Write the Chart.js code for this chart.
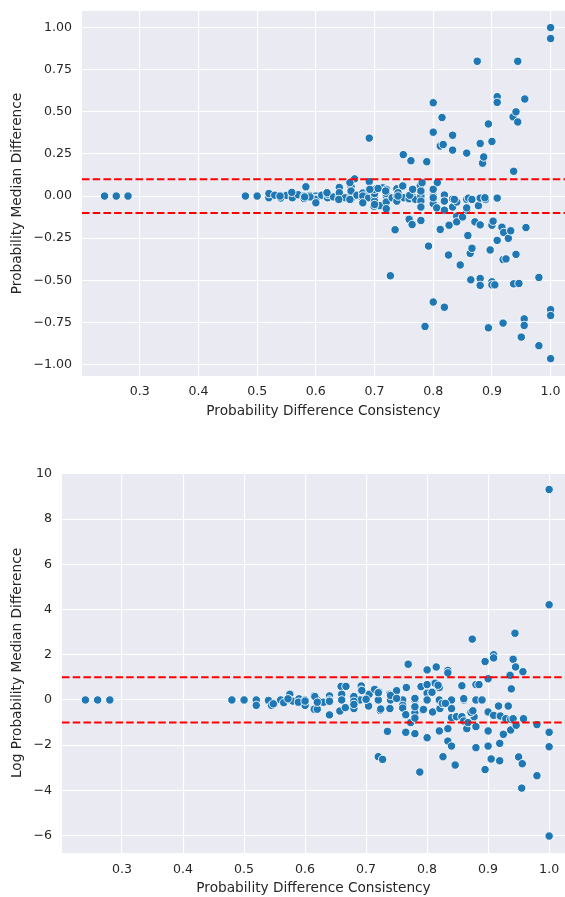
<!DOCTYPE html>
<html>
<head>
<meta charset="utf-8">
<script src="https://cdn.jsdelivr.net/npm/chart.js@4.4.1/dist/chart.umd.min.js"></script>
<style>
    html, body { margin: 0; padding: 0; background: #ffffff; overflow: hidden; }
    .panel { position: absolute; left: 0; }
</style>
</head>
<body>
<div class="panel" style="top:0"><canvas id="topChart" width="565" height="430"></canvas></div>
<div class="panel" style="top:430px"><canvas id="bottomChart" width="565" height="467"></canvas></div>
<script>
// x = probability difference consistency, y = median difference (top) / log median difference (bottom)
const topX = [
    0.24, 0.26, 0.28, 0.48, 0.50, 0.52, 0.52, 0.52, 0.53, 0.54, 0.54, 0.55, 0.56, 0.56, 0.57, 0.58, 0.58, 0.583, 0.59, 0.60,
    0.60, 0.60, 0.61, 0.62, 0.62, 0.62, 0.63, 0.64, 0.64, 0.64, 0.64, 0.65, 0.66, 0.66, 0.66, 0.66, 0.666, 0.67, 0.68, 0.68,
    0.68, 0.69, 0.691, 0.691, 0.691, 0.70, 0.70, 0.70, 0.705, 0.709, 0.714, 0.72, 0.72, 0.72, 0.72, 0.72, 0.727, 0.73, 0.735, 0.738,
    0.738, 0.738, 0.74, 0.749, 0.749, 0.75, 0.759, 0.759, 0.762, 0.764, 0.764, 0.766, 0.77, 0.778, 0.779, 0.779, 0.779, 0.779, 0.781, 0.786,
    0.789, 0.792, 0.80, 0.80, 0.80, 0.80, 0.80, 0.80, 0.806, 0.807, 0.812, 0.812, 0.815, 0.817, 0.819, 0.819, 0.819, 0.819, 0.826, 0.827,
    0.833, 0.833, 0.833, 0.833, 0.84, 0.84, 0.84, 0.846, 0.85, 0.857, 0.857, 0.857, 0.859, 0.86, 0.863, 0.864, 0.866, 0.866, 0.871, 0.875,
    0.877, 0.88, 0.88, 0.88, 0.88, 0.88, 0.884, 0.886, 0.889, 0.894, 0.894, 0.897, 0.90, 0.90, 0.90, 0.90, 0.902, 0.905, 0.909, 0.909,
    0.909, 0.909, 0.917, 0.919, 0.919, 0.92, 0.924, 0.928, 0.932, 0.936, 0.937, 0.937, 0.941, 0.941, 0.944, 0.944, 0.946, 0.95, 0.955, 0.955,
    0.956, 0.958, 0.98, 0.98, 1.0, 1.0, 1.0, 1.0, 1.0, 0.74, 0.76, 0.72, 0.70,
    0.699, 0.706, 0.719, 0.748, 0.765, 0.779, 0.80, 0.80, 0.836, 0.888, 0.539, 0.559, 0.59, 0.60, 0.619, 0.658, 0.68, 0.692, 0.70, 0.658,
    0.581, 0.639, 0.857
];
const topY = [
    0, 0, 0, 0, 0, 0.008, -0.01, 0.015, 0.005, 0, -0.012, 0.004, 0, -0.01, 0.008, 0, -0.015, 0.055, 0.004, 0,
    -0.014, -0.02, 0.005, 0, -0.01, 0.01, -0.005, 0.051, 0, -0.02, 0.02, -0.01, 0.057, 0, -0.02, 0.03, 0.102, 0.005, 0.018, -0.02,
    0, -0.01, 0.086, 0.035, 0.344, 0, -0.031, 0.015, 0.047, -0.057, 0.049, 0.028, 0, -0.035, -0.075, 0.015, -0.473, -0.01, -0.20, 0.043,
    0, -0.03, 0.02, 0.246, 0.061, -0.01, -0.016, -0.138, 0.21, 0, -0.169, 0.041, -0.02, 0.063, 0, -0.03, -0.065, -0.145, 0.079, -0.774,
    0.204, -0.297, 0.554, 0.379, 0.033, 0, -0.045, -0.629, -0.07, 0.08, 0.297, -0.198, 0.466, 0.306, 0.006, -0.03, -0.084, -0.66, -0.35, -0.173,
    0.361, 0.273, -0.018, -0.065, -0.035, -0.12, -0.153, -0.409, -0.124, 0.255, -0.02, -0.084, -0.234, -0.012, -0.34, -0.497, -0.02, -0.31, -0.153, 0.80,
    -0.057, 0.312, -0.012, -0.171, -0.489, -0.53, 0.195, 0.232, -0.02, 0.428, -0.782, -0.32, 0.324, -0.173, -0.509, -0.527, -0.149, -0.527, 0.59, 0.556,
    -0.012, -0.263, -0.185, -0.377, -0.754, -0.216, -0.373, -0.251, -0.206, 0.47, 0.147, -0.521, 0.50, -0.346, 0.80, 0.44, -0.519, -0.837, -0.729, -0.768,
    0.576, -0.187, -0.483, -0.888, 1.0, 0.935, -0.674, -0.709, -0.965, 0, 0.005, 0.04, 0.04,
    -0.06, 0.045, 0.03, 0.06, 0.04, 0.03, 0.04, -0.01, -0.02, -0.01, 0, 0.022, -0.005, -0.04, 0.02, 0.08, -0.04, 0.04, -0.05, -0.02,
    -0.005, -0.02, -0.07
];

const bottomX = [
    0.24, 0.26, 0.28, 0.48, 0.50, 0.52, 0.52, 0.54, 0.545, 0.55, 0.56, 0.565, 0.575, 0.575, 0.58, 0.59, 0.60, 0.60, 0.615, 0.615,
    0.62, 0.62, 0.63, 0.64, 0.64, 0.64, 0.657, 0.659, 0.66, 0.66, 0.666, 0.667, 0.68, 0.68, 0.68, 0.69, 0.692, 0.692, 0.70, 0.704,
    0.705, 0.714, 0.72, 0.72, 0.721, 0.723, 0.727, 0.735, 0.739, 0.739, 0.74, 0.75, 0.76, 0.76, 0.765, 0.765, 0.766, 0.769, 0.773, 0.78,
    0.78, 0.78, 0.78, 0.788, 0.79, 0.793, 0.80, 0.80, 0.80, 0.80, 0.808, 0.809, 0.813, 0.815, 0.82, 0.82, 0.82, 0.821, 0.826, 0.826,
    0.834, 0.834, 0.834, 0.834, 0.84, 0.84, 0.84, 0.84, 0.846, 0.848, 0.857, 0.857, 0.86, 0.86, 0.865, 0.867, 0.871, 0.874, 0.877, 0.88,
    0.88, 0.88, 0.88, 0.885, 0.89, 0.895, 0.895, 0.90, 0.90, 0.90, 0.90, 0.905, 0.909, 0.909, 0.909, 0.917, 0.919, 0.919, 0.92, 0.925,
    0.929, 0.933, 0.936, 0.937, 0.937, 0.938, 0.941, 0.941, 0.944, 0.945, 0.946, 0.95, 0.955, 0.956, 0.957, 0.958, 0.98, 0.98, 1.0, 1.0,
    1.0, 1.0, 1.0,
    0.548, 0.572, 0.589, 0.60, 0.616, 0.62, 0.64, 0.68, 0.68, 0.68, 0.693, 0.70, 0.72, 0.724, 0.74, 0.75, 0.76, 0.765, 0.78, 0.78,
    0.794, 0.80, 0.808, 0.818, 0.825, 0.83, 0.86, 0.872, 0.875
];
const bottomY = [
    0, 0, 0, 0, 0, 0, -0.24, -0.02, -0.24, -0.15, 0, -0.12, 0.25, 0, -0.05, 0.05, 0, -0.24, 0.18, -0.41,
    0, -0.41, -0.1, 0.18, 0, -0.66, -0.49, 0.6, 0.25, 0, -0.34, 0.6, 0.05, -0.24, -0.38, 0, 0.62, 0.43, 0, -0.27,
    0.25, 0.47, -2.51, 0, 0.35, -0.46, -2.63, -1.39, 0.25, -0.38, 0, 0.41, 0, -0.24, -0.68, -1.43, 0.55, 1.58, -1.0, 0,
    -0.56, -0.8, -1.49, -3.19, 0.59, -0.46, 1.33, 0.3, 0, -1.67, 0.32, -0.53, 0.74, 1.46, 0.55, 0, -1.37, -0.38, -0.16, -2.51,
    1.31, 1.2, -1.27, -1.82, 0, -0.38, -0.78, -2.04, -2.88, -0.74, 0.63, -0.74, 0, -0.93, -1.27, -1.0, -0.56, 2.69, -0.74, 0.68,
    0, -1.18, -2.11, 0.68, 0, 1.70, -3.08, 0.94, -0.53, -1.37, -2.04, -2.61, 2.0, 1.86, -0.68, -0.27, -1.92, -2.69, -0.71, -1.52,
    -0.83, -0.27, 1.09, -0.86, -1.33, 0.49, 1.80, -0.83, 2.95, 1.46, -1.12, -2.52, -3.9, -2.82, 1.25, -0.83, -1.09, -3.35, 9.31, 4.21,
    -1.43, -2.07, -6.02,
    -0.17, 0.05, -0.1, -0.05, 0.15, -0.1, -0.06, 0.15, -0.06, -0.2, 0.42, 0.03, 0.32, -0.4, 0.2, 0.07, -0.36, -0.65, 0.07, -0.3,
    -0.42, 0.68, 0.34, 0.65, -0.15, -0.15, 0.06, -0.55, -0.48
];

const xTicks = [0.3, 0.4, 0.5, 0.6, 0.7, 0.8, 0.9, 1.0];
const topYTicks = [-1.0, -0.75, -0.5, -0.25, 0, 0.25, 0.5, 0.75, 1.0];
const bottomYTicks = [-6, -4, -2, 0, 2, 4, 6, 8, 10];
const topThresholds = [0.1, -0.1];
const bottomThresholds = [1, -1];

const INK = '#262626';
const FONT = 'DejaVu Sans';

const plotBackground = {
    id: 'plotBackground',
    beforeDraw(chart) {
        const { ctx, chartArea: a } = chart;
        ctx.save();
        ctx.fillStyle = '#eaeaf2';
        ctx.fillRect(a.left, a.top, a.right - a.left, a.bottom - a.top);
        ctx.restore();
    }
};

function minusSign(text) {
    return text.replace('-', '\u2212');
}

// keep chart.js from reserving room for overhanging tick labels
function noOverhang(axis) {
    axis.paddingTop = 0;
    axis.paddingBottom = 0;
    axis.paddingLeft = 0;
    axis.paddingRight = 0;
}

function buildChart(id, cfg) {
    const points = cfg.xs.map((x, i) => ({ x, y: cfg.ys[i] }));
    const lines = cfg.thresholds.map((t) => ({
        type: 'line',
        data: [{ x: cfg.xRange[0], y: t }, { x: cfg.xRange[1], y: t }],
        borderColor: '#ff0000',
        borderWidth: 2,
        borderDash: [7.5, 3.2],
        pointRadius: 0,
        fill: false,
        order: 0
    }));

    return new Chart(document.getElementById(id), {
        type: 'scatter',
        data: {
            datasets: [
                {
                    data: points,
                    backgroundColor: '#1f77b4',
                    borderColor: '#ffffff',
                    borderWidth: 0.9,
                    pointRadius: 4.2,
                    order: 1
                },
                ...lines
            ]
        },
        options: {
            responsive: false,
            animation: false,
            devicePixelRatio: 1,
            layout: { autoPadding: false, padding: { top: cfg.padTop, left: 0, right: 0, bottom: 0 } },
            plugins: { legend: { display: false }, tooltip: { enabled: false } },
            scales: {
                x: {
                    type: 'linear',
                    min: cfg.xRange[0],
                    max: cfg.xRange[1],
                    afterBuildTicks: (axis) => { axis.ticks = xTicks.map((v) => ({ value: v })); },
                    afterFit: (axis) => { axis.height = cfg.xAxisHeight; noOverhang(axis); },
                    border: { display: false },
                    grid: { color: '#ffffff', lineWidth: 1.1, drawTicks: false },
                    ticks: {
                        color: INK,
                        padding: cfg.xTickPad,
                        maxRotation: 0,
                        font: { family: FONT, size: 12.6 },
                        callback: (v) => v.toFixed(1)
                    },
                    title: {
                        display: true,
                        text: 'Probability Difference Consistency',
                        color: INK,
                        font: { family: FONT, size: 13.7 },
                        padding: { top: 0, bottom: cfg.xTitlePad }
                    }
                },
                y: {
                    type: 'linear',
                    min: cfg.yRange[0],
                    max: cfg.yRange[1],
                    afterBuildTicks: (axis) => { axis.ticks = cfg.yTicks.map((v) => ({ value: v })); },
                    afterFit: (axis) => { axis.width = cfg.yAxisWidth; noOverhang(axis); },
                    border: { display: false },
                    grid: { color: '#ffffff', lineWidth: 1.1, drawTicks: false },
                    ticks: {
                        color: INK,
                        padding: 10,
                        font: { family: FONT, size: 12.6 },
                        callback: (v) => minusSign(v.toFixed(cfg.yDigits))
                    },
                    title: {
                        display: true,
                        text: cfg.yTitle,
                        color: INK,
                        font: { family: FONT, size: 13.7 },
                        padding: { top: 9, bottom: 0 }
                    }
                }
            }
        },
        plugins: [plotBackground]
    });
}

buildChart('topChart', {
    xs: topX, ys: topY, thresholds: topThresholds,
    xRange: [0.2016, 1.0245], yRange: [-1.068, 1.0985], yTicks: topYTicks, yDigits: 2,
    yTitle: 'Probability Median Difference',
    padTop: 11, yAxisWidth: 82, xAxisHeight: 54, xTickPad: 8, xTitlePad: 10
});

buildChart('bottomChart', {
    xs: bottomX, ys: bottomY, thresholds: bottomThresholds,
    xRange: [0.2016, 1.026], yRange: [-6.77, 10.04], yTicks: bottomYTicks, yDigits: 0,
    yTitle: 'Log Probability Median Difference',
    padTop: 43, yAxisWidth: 62, xAxisHeight: 44, xTickPad: 9, xTitlePad: 0
});
</script>
</body>
</html>
